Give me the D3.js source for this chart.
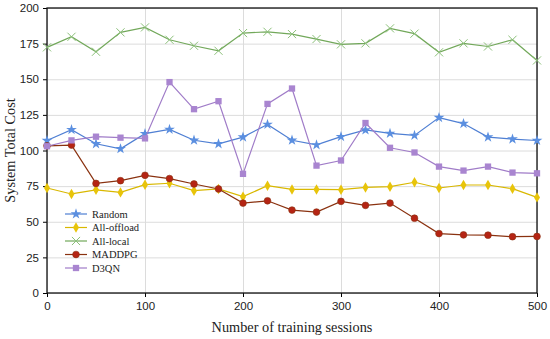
<!DOCTYPE html>
<html>
<head>
<meta charset="utf-8">
<script src="https://cdn.jsdelivr.net/npm/d3@7"></script>
<style>
  body { margin: 0; background: #fff; }
  svg { display: block; font-family: "Liberation Serif", "DejaVu Serif", serif; }
  .grid line { stroke: #dcdcdc; stroke-width: 1; }
  .grid path { display: none; }
  .axis text { font-size: 11.5px; fill: #222; }
</style>
</head>
<body>
<svg width="550" height="339"></svg>
<script>
const sessions = [0, 25, 50, 75, 100, 125, 150, 175, 200, 225, 250, 275, 300, 325, 350, 375, 400, 425, 450, 475, 500]

const random = [107, 114.6, 104.7, 101.2, 111.8, 114.8, 107.2, 104.7, 109.4, 118.3, 107.2, 103.9, 109.7, 114.4, 112, 110.6, 123.1, 118.9, 109.4, 108, 107]
const allOffload = [73.7, 69.5, 72.4, 70.6, 76, 77, 71.8, 73, 67.6, 75.3, 72.7, 72.7, 72.5, 74.1, 74.6, 77.7, 73.7, 75.8, 75.8, 73.2, 67.1]
const allLocal = [172.4, 179.8, 169.3, 182.9, 186.4, 177.7, 173.5, 170, 182.4, 183.3, 181.7, 178.2, 174.5, 175.2, 185.7, 182, 168.9, 175.2, 173, 177.7, 163.2]
const maddpg = [103.3, 103.8, 76.9, 78.8, 82.6, 80.3, 76.5, 73, 63.1, 64.7, 58.2, 56.8, 64.3, 61.5, 63.1, 52.5, 41.7, 40.8, 40.6, 39.5, 39.7]
const d3qn = [103, 107.1, 109.7, 109, 108.5, 148, 129, 134.6, 83.6, 132.7, 143.5, 89.4, 93, 119.3, 101.9, 98.6, 88.7, 85.9, 88.7, 84.5, 84]

const xTicks = [0, 100, 200, 300, 400, 500]
const yTicks = [0, 25, 50, 75, 100, 125, 150, 175, 200]

const series = [
  { name: "Random", values: random, line: "#4f7fd3", fill: "#5b8fe0", marker: "star" },
  { name: "All-offload", values: allOffload, line: "#d9b800", fill: "#e8c40a", marker: "diamond" },
  { name: "All-local", values: allLocal, line: "#72a85a", fill: "#8cc07a", marker: "cross" },
  { name: "MADDPG", values: maddpg, line: "#8a3210", fill: "#b52414", marker: "circle" },
  { name: "D3QN", values: d3qn, line: "#a07cc8", fill: "#a985d0", marker: "square" }
]

const svg = d3.select("svg")
const margin = { top: 8, right: 13, bottom: 46, left: 47 }
const width = +svg.attr("width") - margin.left - margin.right
const height = +svg.attr("height") - margin.top - margin.bottom

const x = d3.scaleLinear().domain([0, 500]).range([0, width])
const y = d3.scaleLinear().domain([0, 200]).range([height, 0])

const g = svg.append("g")
  .attr("transform", "translate(" + margin.left + "," + margin.top + ")")

g.append("g")
    .attr("class", "grid")
    .attr("transform", "translate(0," + height + ")")
    .call(d3.axisBottom(x).tickValues(xTicks).tickSize(-height).tickFormat(""))

g.append("g")
    .attr("class", "grid")
    .call(d3.axisLeft(y).tickValues(yTicks).tickSize(-width).tickFormat(""))

g.append("g")
    .attr("class", "axis")
    .attr("transform", "translate(0," + height + ")")
    .call(d3.axisBottom(x).tickValues(xTicks).tickSize(4).tickPadding(5))
    .call(a => a.select(".domain").remove())

g.append("g")
    .attr("class", "axis")
    .call(d3.axisLeft(y).tickValues(yTicks).tickSize(4).tickPadding(4))
    .call(a => a.select(".domain").remove())

g.append("rect")
    .attr("width", width)
    .attr("height", height)
    .attr("fill", "none")
    .attr("stroke", "#111")
    .attr("stroke-width", 1.3)

function drawMarker(sel, s, size) {
  if (s.marker === "star") {
    sel.append("path")
      .attr("d", d3.symbol(d3.symbolStar, size * 8)())
      .attr("fill", s.fill)
  } else if (s.marker === "diamond") {
    sel.append("path")
      .attr("d", d3.symbol(d3.symbolDiamond, size * 7)())
      .attr("fill", s.fill)
  } else if (s.marker === "cross") {
    sel.append("path")
      .attr("d", d3.symbol(d3.symbolX, size * 10)())
      .attr("fill", "none")
      .attr("stroke", s.fill)
      .attr("stroke-width", 1)
  } else if (s.marker === "circle") {
    sel.append("circle")
      .attr("r", size * 0.75)
      .attr("fill", s.fill)
      .attr("stroke", s.line)
      .attr("stroke-width", 0.6)
  } else {
    sel.append("rect")
      .attr("x", -size * 0.7).attr("y", -size * 0.7)
      .attr("width", size * 1.4).attr("height", size * 1.4)
      .attr("fill", s.fill)
  }
}

const line = d3.line()
  .x((d, i) => x(sessions[i]))
  .y(d => y(d))

series.forEach(s => {
  g.append("path")
    .datum(s.values)
    .attr("fill", "none")
    .attr("stroke", s.line)
    .attr("stroke-width", 1.2)
    .attr("d", line)

  g.selectAll(null)
    .data(s.values)
    .enter().append("g")
      .attr("transform", (d, i) => "translate(" + x(sessions[i]) + "," + y(d) + ")")
      .each(function() { drawMarker(d3.select(this), s, 4.5) })
})

const legend = g.append("g")
  .attr("transform", "translate(18,206)")

series.forEach((s, i) => {
  const row = legend.append("g").attr("transform", "translate(0," + i * 13.5 + ")")
  row.append("line")
    .attr("x1", 0).attr("x2", 22)
    .attr("stroke", s.line)
    .attr("stroke-width", 1.2)
  drawMarker(row.append("g").attr("transform", "translate(11,0)"), s, 4.5)
  row.append("text")
    .attr("x", 27)
    .attr("dy", "0.35em")
    .attr("font-size", 10.5)
    .attr("fill", "#222")
    .text(s.name)
})

svg.append("text")
    .attr("x", margin.left + width / 2)
    .attr("y", 332)
    .attr("text-anchor", "middle")
    .attr("font-size", 14.3)
    .attr("fill", "#222")
    .text("Number of training sessions")

svg.append("text")
    .attr("transform", "translate(15," + (margin.top + height / 2) + ") rotate(-90)")
    .attr("text-anchor", "middle")
    .attr("font-size", 14.3)
    .attr("fill", "#222")
    .text("System Total Cost")
</script>
</body>
</html>
